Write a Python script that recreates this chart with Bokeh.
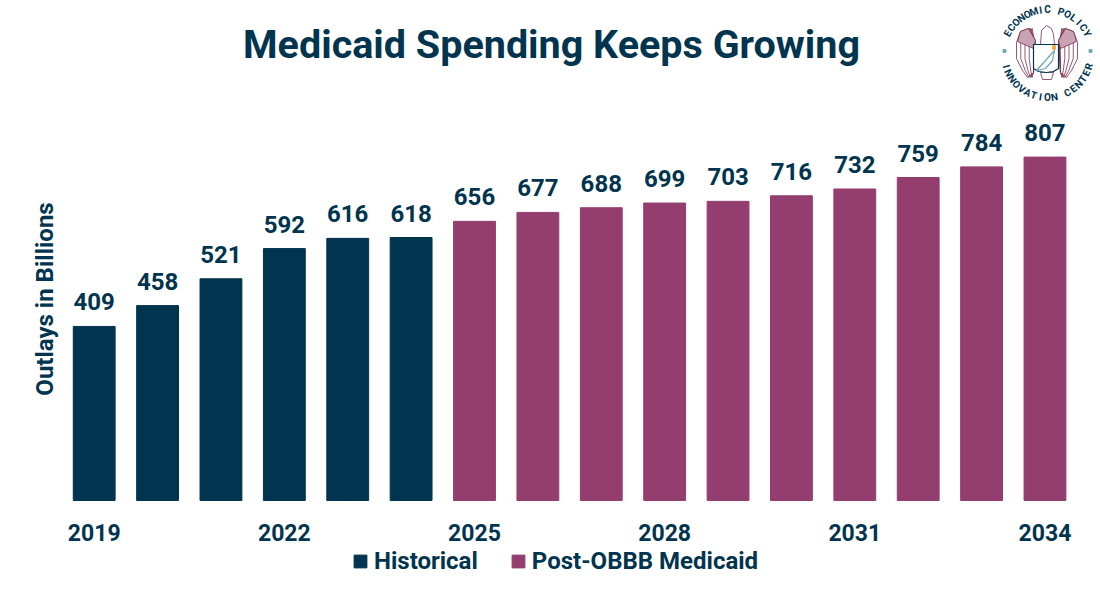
import math
from bokeh.core.properties import value
from bokeh.embed import file_html
from bokeh.resources import INLINE
from bokeh.plotting import figure
from bokeh.models import ColumnDataSource, LabelSet, Legend, LegendItem, Label, PolyAnnotation, FixedTicker, Range1d

years_hist = [2019, 2020, 2021, 2022, 2023, 2024]
vals_hist = [409, 458, 521, 592, 616, 618]
years_post = [2025, 2026, 2027, 2028, 2029, 2030, 2031, 2032, 2033, 2034]
vals_post = [656, 677, 688, 699, 703, 716, 732, 759, 784, 807]
tick_years = [2019, 2022, 2025, 2028, 2031, 2034]

NAVY = "#00344F"
MAROON = "#933E6F"
WING = "#7A2E4F"
FONT = "Roboto"

FL, FB = 62, 597  # picture x of frame left, picture y of frame bottom

p = figure(width=1100, height=597, frame_width=1038, frame_height=597,
           output_backend="svg", toolbar_location=None,
           x_range=Range1d(2018.5, 2034.876), y_range=Range1d(-228, 1175),
           min_border_left=62, min_border_right=0, min_border_top=0, min_border_bottom=0,
           outline_line_color=None, background_fill_color="white", border_fill_color="white")

p.grid.visible = False
xa = p.xaxis[0]
xa.fixed_location = 0
xa.ticker = FixedTicker(ticks=tick_years)
xa.major_tick_line_color = None
xa.minor_tick_line_color = None
xa.axis_line_color = None
xa.major_label_text_font = FONT
xa.major_label_text_font_size = "23px"
xa.major_label_text_font_style = "bold"
xa.major_label_text_color = NAVY
xa.major_label_standoff = 18

ya = p.yaxis[0]
ya.ticker = FixedTicker(ticks=[])
ya.axis_label = "Outlays in Billions"
ya.axis_label_text_font = FONT
ya.axis_label_text_font_size = "24px"
ya.axis_label_text_font_style = "bold"
ya.axis_label_text_color = NAVY
ya.axis_label_standoff = 4
ya.major_tick_line_color = None
ya.minor_tick_line_color = None
ya.axis_line_color = None

hist = ColumnDataSource(dict(x=years_hist, y=vals_hist, t=[str(v) for v in vals_hist]))
post = ColumnDataSource(dict(x=years_post, y=vals_post, t=[str(v) for v in vals_post]))
r1 = p.vbar(x="x", top="y", width=0.66, bottom=0, source=hist, color=NAVY)
r2 = p.vbar(x="x", top="y", width=0.66, bottom=0, source=post, color=MAROON)

for s in (hist, post):
    p.add_layout(LabelSet(x="x", y="y", text="t", source=s, y_offset=16, text_align="center",
                          text_baseline="bottom", text_font=value(FONT), text_font_size="24px",
                          text_font_style="bold", text_color=NAVY))

p.add_layout(Label(x=551 - FL, y=FB - 44, x_units="screen", y_units="screen",
                   text="Medicaid Spending Keeps Growing", text_align="center",
                   text_baseline="middle", text_font=FONT, text_font_size="39.5px",
                   text_font_style="bold", text_color=NAVY))

legend = Legend(items=[LegendItem(label="Historical", renderers=[r1]),
                       LegendItem(label="Post-OBBB Medicaid", renderers=[r2])],
                orientation="horizontal", location=(290, 22), border_line_color=None,
                background_fill_alpha=0, label_text_font=FONT, label_text_font_size="24px",
                label_text_font_style="bold", label_text_color=NAVY,
                glyph_width=16, glyph_height=16, spacing=32, margin=0, padding=0,
                label_standoff=6)
p.add_layout(legend, "center")

# logo ornament, in screen pixels relative to the frame's lower-left corner
CX, CY = 1047, 54

def letters(text, start, end, top, R):
    n = len(text)
    for i, ch in enumerate(text):
        a = math.radians(start + (end - start) * i / (n - 1))
        sx = CX + R * math.cos(a) - FL
        sy = FB - (CY - R * math.sin(a))
        ang = a - math.pi / 2 if top else a + math.pi / 2
        p.add_layout(Label(x=sx, y=sy, x_units="screen", y_units="screen", text=ch, angle=ang,
                           text_align="center", text_baseline="middle", text_font=FONT,
                           text_font_size="10px", text_font_style="bold", text_color=NAVY))

letters("ECONOMIC POLICY", 152, 28, True, 45)
letters("INNOVATION CENTER", 196, 344, False, 43)

def poly(xs, ys, line=WING, fill=None, lw=0.8):
    p.add_layout(PolyAnnotation(xs=[x - FL for x in xs], ys=[FB - y for y in ys],
                                xs_units="screen", ys_units="screen", line_color=line,
                                line_width=lw, line_alpha=1, fill_color=fill or "white",
                                fill_alpha=1 if fill else 0))

wing_x = [-2, 5, 13, 17, 17, 11, 6, 0]
wing_y = [34, 46, 43, 32, 16, 4, -3, 2]
for side, ax in ((-1, 1033), (1, 1060)):
    for k in (1.0, 0.75, 0.5, 0.25):
        poly([ax + side * k * x for x in wing_x], [74 - y for y in wing_y])
    poly([ax + side * x for x in (-2, 5, 13, 16, 0)], [74 - y for y in (34, 46, 43, 33, 26)],
         fill="#C9A3B4")
poly([1040, 1053, 1051, 1042], [72, 72, 79, 79])
poly([1040, 1041, 1046, 1051, 1053, 1054, 1040], [44, 30, 25, 28, 34, 44, 44], fill="white")
poly([1033, 1058, 1058, 1053, 1046, 1038, 1033], [44, 44, 68, 71, 72, 71, 68], line=NAVY, fill="white", lw=1.2)
poly([1036, 1045, 1052, 1054], [70, 68, 60, 50], line="#6FA3B8", lw=1.2)
poly([1052, 1055, 1055, 1052], [45, 45, 49, 49], line="#F2A93B", fill="#F2A93B")
for dx in (1004, 1090):
    poly([dx - 1.5, dx + 1.5, dx + 1.5, dx - 1.5], [49, 49, 52, 52], line="#6FA3B8", fill="#6FA3B8")

open("out.html", "w").write(file_html(p, INLINE))
